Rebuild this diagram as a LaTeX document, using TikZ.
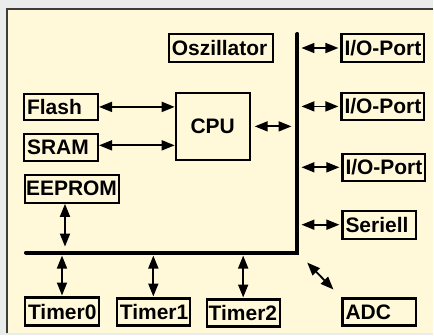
\documentclass[tikz,border=0pt]{standalone}
\usepackage{fontspec}
\setmainfont{Liberation Sans}
\usetikzlibrary{arrows.meta,positioning,calc}
\definecolor{paper}{RGB}{255,249,218}
\definecolor{rim}{RGB}{234,235,235}
\definecolor{edge}{RGB}{60,60,60}

\begin{document}
\begin{tikzpicture}[
  x=1pt, y=-1pt, >={Triangle[length=13pt,width=10pt]},
  unit/.style={draw, line width=2.2pt, anchor=north west, inner xsep=3pt, inner ysep=0pt,
    minimum height=27pt, align=left, font=\bfseries\fontsize{21}{21}\selectfont},
  link/.style={<->, line width=1.8pt},
  bus/.style={line width=4pt, line cap=round}
]
% frame
\fill[rim] (0,0) rectangle (434,336);
\fill[paper] (7,9) rectangle (434,334);
\draw[edge, line width=1.5pt] (7,334) -- (7,9) -- (434,9);
\useasboundingbox (0,0) rectangle (434,336);

% core and memories
\node[unit, text width=98pt, minimum height=28pt] (osz) at (168,33) {Oszillator};
\node[unit, text width=68pt, minimum height=26pt] (flash) at (23,93) {Flash};
\node[unit, text width=68pt] (sram) at (23,133) {SRAM};
\node[unit, text width=68pt, minimum height=67pt, align=center] (cpu) at (175,92) {CPU};
\node[unit, text width=92pt, inner xsep=1pt, minimum height=28pt] (eeprom) at (24,174) {EEPROM};

% peripherals
\node[unit, text width=77pt, minimum height=28pt] (io1) at (341,33) {I/O-Port};
\node[unit, text width=77pt] (io2) at (341,92) {I/O-Port};
\node[unit, text width=77pt] (io3) at (342,153) {I/O-Port};
\node[unit, text width=68pt, minimum height=28pt] (ser) at (342,210) {Seriell};
\node[unit, text width=68pt] (adc) at (342,298) {ADC};
\node[unit, text width=68pt, minimum height=28pt] (t0) at (24,297) {Timer0};
\node[unit, text width=67pt] (t1) at (116,298) {Timer1};
\node[unit, text width=69pt, inner xsep=2pt] (t2) at (206,299) {Timer2};

% bus
\coordinate (bustop) at (298,34);
\coordinate (buscorner) at (298,253);
\coordinate (busleft) at (26,253);
\coordinate (adcend) at (334,290);
\draw[bus] (busleft) -- (buscorner) -- (bustop);

\draw[link] (flash.east) -- (flash.east -| cpu.west);
\draw[link] ([yshift=2pt]sram.east) -- ([yshift=2pt]sram.east -| cpu.west);
\draw[link, shorten <=4pt, shorten >=6pt] (cpu.east) -- (cpu.east -| bustop);
\foreach \p in {io1,io2,io3,ser}
  \draw[link, shorten <=4pt, shorten >=2pt] (\p.west -| bustop) -- (\p.west);
\draw[link, shorten >=6pt] ([xshift=-7pt]eeprom.south) -- ([xshift=-7pt]eeprom.south |- busleft);
\foreach \t in {t0,t1,t2}
  \draw[link, shorten <=3pt, shorten >=1pt] (\t.north |- busleft) -- (\t.north);
\draw[link, shorten <=14pt] (buscorner) -- (adcend);
\end{tikzpicture}
\end{document}
